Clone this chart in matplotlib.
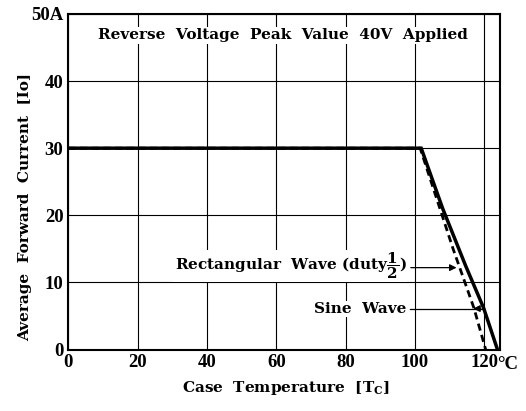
import numpy as np
import matplotlib
matplotlib.use("Agg")
import matplotlib.pyplot as plt

# ------------------------------
# Dados (curvas de derating)
rect_tc = [0, 101.8, 108.0, 114.6, 119.8, 123.8]
rect_io = [30, 30, 21.0, 12.5, 6.2, 0]

sine_tc = [0, 101.5, 111.0, 117.0, 120.4]
sine_io = [30, 30, 15.0, 6.2, 0]

x_ticks = [0, 20, 40, 60, 80, 100, 120]
x_labels = ["0", "20", "40", "60", "80", "100", "120"]
y_ticks = [0, 10, 20, 30, 40, 50]
y_labels = ["0", "10", "20", "30", "40", "50A"]

rect_arrow_y = 12.2
sine_arrow_y = 6.1

# ------------------------------
plt.rcParams['mathtext.fontset'] = 'custom'
plt.rcParams['mathtext.rm'] = 'DejaVu Serif:bold'
plt.rcParams['mathtext.bf'] = 'DejaVu Serif:bold'

serif = dict(family='DejaVu Serif', fontweight='bold')
tickfont = 'Liberation Serif'

fig = plt.figure(figsize=(5.26, 4.11), dpi=100)
ax = fig.add_axes([0.130, 0.1496, 0.821, 0.8164])

ax.plot(rect_tc, rect_io, color='black', lw=2.5, solid_joinstyle='miter', zorder=4)
ax.plot(sine_tc, sine_io, color='black', lw=2.0, ls=(0, (2.6, 1.6)), zorder=4)

ax.set_xlim(0, 124.6)
ax.set_ylim(0, 50)
ax.set_xticks(x_ticks)
ax.set_xticklabels(x_labels)
ax.set_yticks(y_ticks)
ax.set_yticklabels(y_labels)
ax.tick_params(axis='x', length=0, pad=3, labelsize=13.5)
ax.tick_params(axis='y', length=0, pad=3.6, labelsize=13.5)
for lbl in ax.get_xticklabels() + ax.get_yticklabels():
    lbl.set_family(tickfont)
    lbl.set_fontweight('bold')

ax.grid(True, color='black', lw=0.8)
for sp in ax.spines.values():
    sp.set_linewidth(1.5)

# unidade junto do último rótulo do eixo x
ax.text(123.7, -0.95, "°C", ha='left', va='top', fontsize=13.5,
        family=tickfont, fontweight='bold')

fig.text(286 / 526, 1 - 388 / 411, "Case  Temperature  [T$_\\mathregular{C}$]",
         ha='center', va='center', fontsize=11, **serif)
fig.text(25 / 526, 1 - 207 / 411, "Average  Forward  Current  [Io]", rotation=90,
         ha='center', va='center', fontsize=11, **serif)

bbox = dict(facecolor='white', edgecolor='none', pad=0.8)
ax.text(61.8, 46.8, "Reverse  Voltage  Peak  Value  40V  Applied", ha='center', va='center',
        fontsize=11, bbox=bbox, zorder=5, **serif)

ax.text(97.5, 11.85, "Rectangular  Wave (duty$\\dfrac{1}{2}$)", ha='right', va='baseline',
        fontsize=11, bbox=bbox, zorder=5, **serif)
ax.annotate("", xy=(112.8, rect_arrow_y), xytext=(98.0, rect_arrow_y),
            arrowprops=dict(arrowstyle='-|>', color='black', lw=0.9, mutation_scale=10), zorder=5)

ax.text(97.5, sine_arrow_y, "Sine  Wave", ha='right', va='center',
        fontsize=11, bbox=bbox, zorder=5, **serif)
ax.plot([98.5, 119.8], [sine_arrow_y, sine_arrow_y], color='black', lw=0.9, zorder=5)
ax.annotate("", xy=(116.0, sine_arrow_y), xytext=(119.8, sine_arrow_y),
            arrowprops=dict(arrowstyle='-|>', color='black', lw=0.9, mutation_scale=10), zorder=5)

fig.savefig("out.png", dpi=100)
